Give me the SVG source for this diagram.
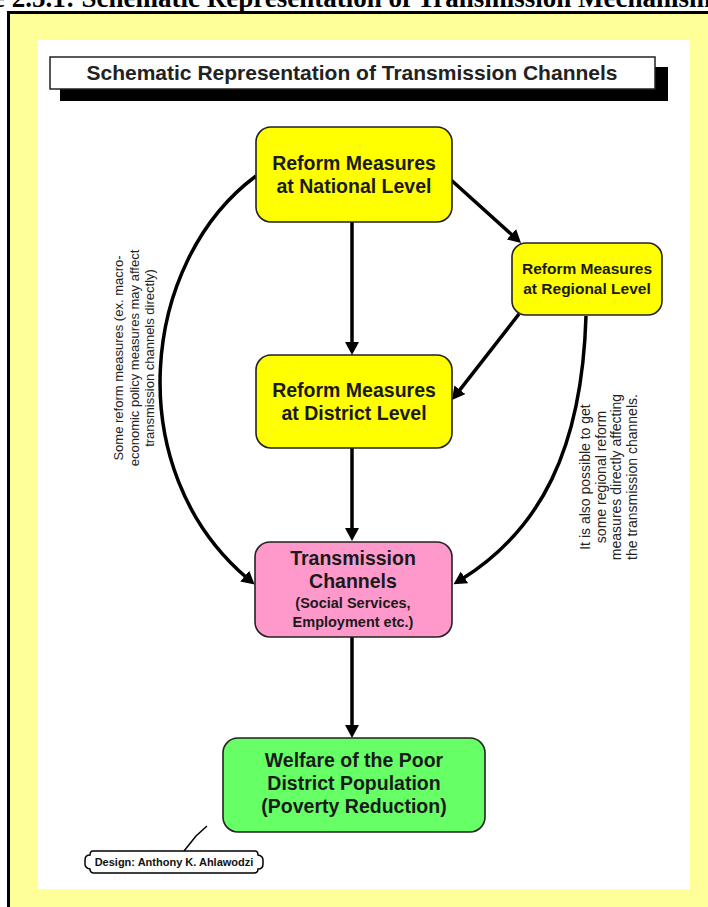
<svg xmlns="http://www.w3.org/2000/svg" width="708" height="907" viewBox="0 0 708 907">
  <defs>
    <marker id="ah" markerWidth="14" markerHeight="14" refX="3" refY="7" orient="auto" markerUnits="userSpaceOnUse">
      <path d="M0,0 L13,7 L0,14 z" fill="#000"/>
    </marker>
    <style>
      .node { stroke: #222; stroke-width: 1.6; }
      .nt { font-family: "Liberation Sans", Arial, sans-serif; font-weight: bold; fill: #1a1a1a; text-anchor: middle; }
      .conn { fill: none; stroke: #000; stroke-width: 3.5; marker-end: url(#ah); }
      .note { font-family: "Liberation Sans", Arial, sans-serif; fill: #222; text-anchor: middle; }
    </style>
  </defs>

  <rect width="708" height="907" fill="#fff"/>
  <!-- caption above the frame -->
  <text x="-71" y="7" font-family="Liberation Serif, 'Times New Roman', serif" font-weight="bold" font-size="27" fill="#000">Figure 2.5.1: Schematic Representation of Transmission Mechanism</text>

  <!-- yellow page frame -->
  <rect x="8.5" y="12.5" width="720" height="920" fill="#FFFF99" stroke="#000" stroke-width="3"/>
  <rect x="38" y="40" width="652" height="849" fill="#fff"/>

  <!-- title banner -->
  <g id="title">
    <rect x="60" y="67" width="608" height="34" fill="#000"/>
    <rect x="50" y="57" width="605" height="32" fill="#fff" stroke="#222" stroke-width="1.5"/>
    <text x="352" y="80" font-family="Liberation Sans, Arial, sans-serif" font-weight="bold" font-size="21" fill="#222" text-anchor="middle">Schematic Representation of Transmission Channels</text>
  </g>

  <!-- connectors -->
  <g id="connectors">
    <path class="conn" d="M352,222 V345"/>
    <path class="conn" d="M450,179 L513.6,236.3"/>
    <path class="conn" d="M519,314 L458.1,392.1"/>
    <path class="conn" d="M352,448 V531"/>
    <path class="conn" d="M352,637 V728"/>
    <path class="conn" d="M256,176 C140,262 120,470 247,578"/>
    <path class="conn" d="M586,316 C582,450 540,530 462,579"/>
  </g>

  <!-- side notes -->
  <g id="note-left" class="note" font-size="13" transform="translate(123,358) rotate(-90)">
    <text x="0" y="0">Some reform measures (ex. macro-</text>
    <text x="0" y="15.5">economic policy measures may affect</text>
    <text x="0" y="31">transmission channels directly)</text>
  </g>
  <g id="note-right" class="note" font-size="14" transform="translate(590,477) rotate(-90)">
    <text x="0" y="0">It is also possible to get</text>
    <text x="0" y="15.5">some regional reform</text>
    <text x="0" y="31">measures directly affecting</text>
    <text x="0" y="46.5">the transmission channels.</text>
  </g>

  <!-- nodes -->
  <g id="national">
    <rect class="node" x="256" y="127" width="196" height="95" rx="15" fill="#FFFF00"/>
    <text class="nt" font-size="19.5" x="354" y="170">Reform Measures</text>
    <text class="nt" font-size="19.5" x="354" y="193">at National Level</text>
  </g>
  <g id="regional">
    <rect class="node" x="512" y="243" width="150" height="72" rx="14" fill="#FFFF00"/>
    <text class="nt" font-size="15.5" x="587" y="274">Reform Measures</text>
    <text class="nt" font-size="15.5" x="587" y="294">at Regional Level</text>
  </g>
  <g id="district">
    <rect class="node" x="256" y="355" width="196" height="93" rx="15" fill="#FFFF00"/>
    <text class="nt" font-size="19.5" x="354" y="397">Reform Measures</text>
    <text class="nt" font-size="19.5" x="354" y="420">at District Level</text>
  </g>
  <g id="transmission">
    <rect class="node" x="255" y="542" width="197" height="95" rx="15" fill="#FF99CC"/>
    <text class="nt" font-size="19.5" x="353" y="565">Transmission</text>
    <text class="nt" font-size="19.5" x="353" y="588">Channels</text>
    <text class="nt" font-size="14.5" x="353" y="608">(Social Services,</text>
    <text class="nt" font-size="14.5" x="353" y="627">Employment etc.)</text>
  </g>
  <g id="welfare">
    <rect class="node" x="223" y="738" width="262" height="94" rx="15" fill="#66FF66"/>
    <text class="nt" font-size="19.5" x="354" y="767">Welfare of the Poor</text>
    <text class="nt" font-size="19.5" x="354" y="790">District Population</text>
    <text class="nt" font-size="19.5" x="354" y="813">(Poverty Reduction)</text>
  </g>

  <!-- designer credit -->
  <g id="credit">
    <path d="M184,851 L196,836 L207,826" fill="none" stroke="#000" stroke-width="1.5"/>
    <path d="M93,851 H255 Q258,851 258,855 Q263,856 263,860 V864 Q263,869 258,869 Q258,873 254,873 H94 Q90,873 90,869 Q85,868 85,864 V860 Q85,855 90,855 Q90,851 93,851 Z" fill="#fff" stroke="#000" stroke-width="1.5"/>
    <text x="174" y="866" font-family="Liberation Sans, Arial, sans-serif" font-weight="bold" font-size="11" fill="#111" text-anchor="middle">Design: Anthony K. Ahlawodzi</text>
  </g>
</svg>
